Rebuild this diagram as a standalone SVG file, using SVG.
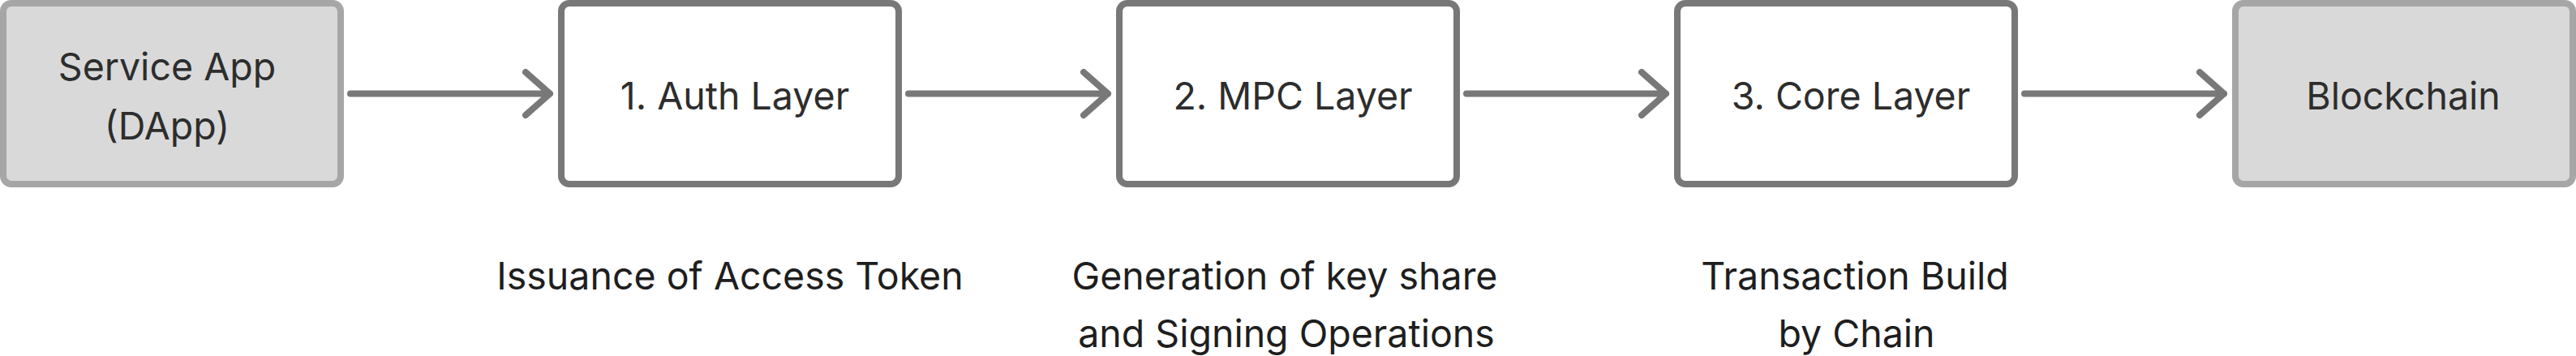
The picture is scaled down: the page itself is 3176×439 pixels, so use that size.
<svg xmlns="http://www.w3.org/2000/svg" width="3176" height="439" viewBox="0 0 3176 439">
  <style>
    .ext rect { fill: #d9d9d9; stroke: #a6a6a6; stroke-width: 8; }
    .layer rect { fill: #ffffff; stroke: #787878; stroke-width: 8; }
    .lbl { font-family: Inter, "Noto Sans", "Liberation Sans", sans-serif; font-size: 46.5px; fill: #2d2d2d; text-anchor: middle; }
    .note { font-family: Inter, "Noto Sans", "Liberation Sans", sans-serif; font-size: 46.5px; fill: #1e1e1e; text-anchor: middle; }
    .conn path { fill: none; stroke: #787878; stroke-width: 8; stroke-linecap: round; stroke-linejoin: round; }
  </style>
  <rect width="3176" height="439" fill="#ffffff"/>

  <g id="service-app" class="ext">
    <rect x="4" y="4" width="416" height="223" rx="10"/>
    <text class="lbl" x="206" y="99">Service App</text>
    <text class="lbl" x="206" y="172">(DApp)</text>
  </g>

  <g id="auth-layer" class="layer">
    <rect x="692" y="4" width="416" height="223" rx="10"/>
    <text class="lbl" x="906" y="135">1. Auth Layer</text>
  </g>

  <g id="mpc-layer" class="layer">
    <rect x="1380" y="4" width="416" height="223" rx="10"/>
    <text class="lbl" x="1594" y="135">2. MPC Layer</text>
  </g>

  <g id="core-layer" class="layer">
    <rect x="2068" y="4" width="416" height="223" rx="10"/>
    <text class="lbl" x="2282" y="135">3. Core Layer</text>
  </g>

  <g id="blockchain" class="ext">
    <rect x="2756" y="4" width="416" height="223" rx="10"/>
    <text class="lbl" x="2963" y="135">Blockchain</text>
  </g>

  <g id="notes">
    <text class="note" x="900" y="357">Issuance of Access Token</text>
    <text class="note" x="1584" y="357">Generation of key share</text>
    <text class="note" x="1586" y="428">and Signing Operations</text>
    <text class="note" x="2287" y="357">Transaction Build</text>
    <text class="note" x="2289" y="428">by Chain</text>
  </g>

  <g id="connectors" class="conn">
    <path d="M432 115.5H678M648 89L678 115.5L648 142"/>
    <path d="M1120 115.5H1366M1336 89L1366 115.5L1336 142"/>
    <path d="M1808 115.5H2054M2024 89L2054 115.5L2024 142"/>
    <path d="M2496 115.5H2742M2712 89L2742 115.5L2712 142"/>
  </g>
</svg>
